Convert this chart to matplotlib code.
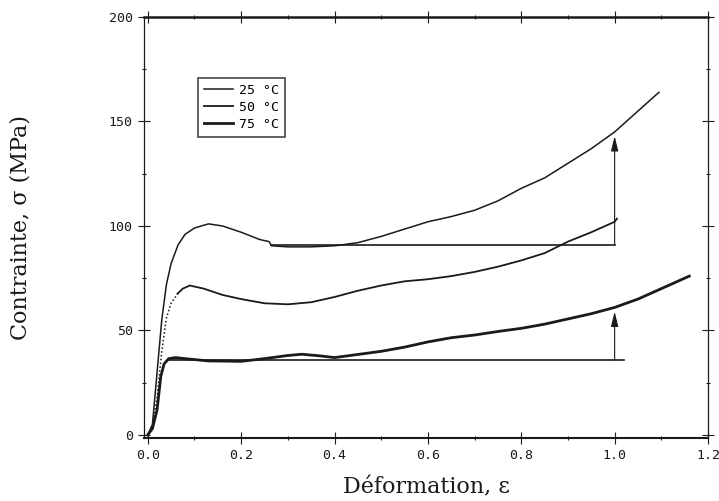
import matplotlib
matplotlib.use("Agg")
import matplotlib.pyplot as plt
from matplotlib.ticker import MultipleLocator

# 25 °C
x25 = [0.0, 0.01, 0.02, 0.03, 0.04, 0.05, 0.065, 0.08, 0.10, 0.13, 0.16, 0.20, 0.24, 0.26,
       0.265, 0.30, 0.35, 0.40, 0.45, 0.50, 0.55, 0.60, 0.65, 0.70, 0.75, 0.80, 0.85, 0.90,
       0.95, 1.00, 1.05, 1.095]
y25 = [0, 5, 30, 55, 72, 82, 91, 96, 99, 101, 100, 97, 93.5, 92.5,
       90.5, 90, 90, 90.5, 92, 95, 98.5, 102, 104.5, 107.5, 112, 118, 123, 130,
       137, 145, 155, 164]

# 50 °C
x50 = [0.0, 0.01, 0.02, 0.03, 0.04, 0.05, 0.064, 0.075, 0.09, 0.12, 0.16, 0.20, 0.25, 0.30,
       0.35, 0.40, 0.45, 0.50, 0.55, 0.60, 0.65, 0.70, 0.75, 0.80, 0.85, 0.90, 0.95, 1.00, 1.005]
y50 = [0, 4, 18, 40, 56, 63, 67.6, 70, 71.5, 70, 67, 65, 63, 62.5,
       63.5, 66, 69, 71.5, 73.5, 74.5, 76, 78, 80.5, 83.5, 87, 92.5, 97, 102, 103.5]
n_dot50 = 7  # first points drawn dotted

# 75 °C
x75 = [0.0, 0.01, 0.02, 0.028, 0.035, 0.045, 0.06, 0.08, 0.13, 0.20, 0.25, 0.30, 0.33, 0.37,
       0.40, 0.45, 0.50, 0.55, 0.60, 0.65, 0.70, 0.75, 0.80, 0.85, 0.90, 0.95, 1.00, 1.05,
       1.10, 1.16]
y75 = [0, 3, 12, 28, 34, 36.5, 37, 36.5, 35.4, 35.2, 36.5, 38, 38.6, 37.8,
       37, 38.5, 40, 42, 44.5, 46.5, 47.8, 49.5, 51, 53, 55.5, 58, 61, 65,
       70, 76]

labels = ["25 °C", "50 °C", "75 °C"]

# plateau reference lines and arrows
ref_y = [91, 36]
ref_x0 = [0.265, 0.045]
ref_x1 = [1.0, 1.02]
arrow_x = 1.0
arrow_top = [143, 59]

ink = "#1a1a1a"
fig = plt.figure(figsize=(7.19, 5.01), dpi=100)
ax = fig.add_axes([0.2003, 0.1257, 0.7844, 0.8403])

l25, = ax.plot(x25, y25, color=ink, lw=1.1)
ax.plot(x50[:n_dot50], y50[:n_dot50], color=ink, lw=1.1, ls=(0, (1, 1.5)))
l50, = ax.plot(x50[n_dot50 - 1:], y50[n_dot50 - 1:], color=ink, lw=1.3)
l75, = ax.plot(x75, y75, color=ink, lw=2.0)

for yv, xa, xb, yt in zip(ref_y, ref_x0, ref_x1, arrow_top):
    ax.plot([xa, xb], [yv, yv], color=ink, lw=1.2)
    ax.annotate("", xy=(arrow_x, yt), xytext=(arrow_x, yv),
                arrowprops=dict(arrowstyle="-|>,head_length=0.9,head_width=0.22",
                                color=ink, lw=0.8, shrinkA=0, shrinkB=0))

ax.set_xlim(-0.008, 1.2)
ax.set_ylim(-1.5, 200)
ax.xaxis.set_major_locator(MultipleLocator(0.2))
ax.xaxis.set_minor_locator(MultipleLocator(0.1))
ax.yaxis.set_major_locator(MultipleLocator(50))
ax.yaxis.set_minor_locator(MultipleLocator(25))
ax.xaxis.set_major_formatter(plt.FuncFormatter(lambda v, p: f"{v:.1f}"))
ax.tick_params(which="major", direction="inout", length=8, width=0.8, color=ink,
               top=True, right=True, labelsize=9.5, labelcolor=ink, pad=4)
ax.tick_params(which="minor", direction="inout", length=3, width=0.8, color=ink,
               top=True, right=True)
for lab in ax.get_xticklabels() + ax.get_yticklabels():
    lab.set_family("DejaVu Sans Mono")
for side, w in [("left", 0.9), ("right", 0.9), ("bottom", 1.5), ("top", 1.8)]:
    ax.spines[side].set_linewidth(w)
    ax.spines[side].set_color(ink)

ax.set_xlabel("Déformation, ε", family="DejaVu Serif", fontsize=16, color=ink, labelpad=10)
ax.set_ylabel("Contrainte, σ (MPa)", family="DejaVu Serif", fontsize=16, color=ink)
ax.yaxis.set_label_coords(-0.200, 0.5)

leg = ax.legend([l25, l50, l75], labels, loc="upper left", bbox_to_anchor=(0.095, 0.855),
                prop={"family": "DejaVu Sans Mono", "size": 9.5}, frameon=True,
                fancybox=False, edgecolor=ink, handlelength=2.2, labelspacing=0.3,
                borderpad=0.45, handletextpad=0.5, borderaxespad=0)
leg.get_frame().set_linewidth(1.2)

fig.savefig("out.png", dpi=100, facecolor="white")
